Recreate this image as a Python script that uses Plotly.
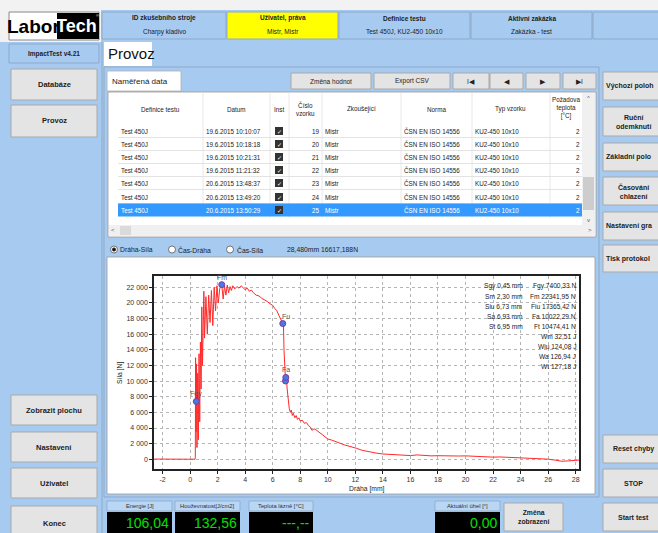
import plotly.graph_objects as go

# ---------------- DATA ----------------
drah_mm = [-2.6, -1.5, -0.5, 0.0, 0.36, 0.38, 0.40, 0.43, 0.45, 0.47, 0.50, 0.55, 0.60, 0.65, 0.70,
           0.75, 0.80, 0.85, 0.90, 1.00, 1.05, 1.15, 1.25, 1.35, 1.45, 1.55, 1.65, 1.75, 1.85, 1.95,
           2.05, 2.15, 2.30, 2.40, 2.50, 2.60, 2.70, 2.80, 2.90, 3.00, 3.10, 3.25, 3.40, 3.55, 3.70,
           3.85, 4.00, 4.15, 4.30, 4.45, 4.60, 4.80, 5.00, 5.20, 5.40, 5.60, 5.80, 6.00, 6.15, 6.30,
           6.45, 6.60, 6.73, 6.78, 6.82, 6.86, 6.90, 6.93, 6.95, 7.00, 7.05, 7.10, 7.15, 7.20, 7.28,
           7.35, 7.42, 7.50, 7.60, 7.70, 7.80, 7.90, 8.00, 8.15, 8.30, 8.45, 8.60, 8.75, 8.85, 9.00,
           9.20, 9.40, 9.60, 9.80, 10.0, 10.3, 10.6, 10.9, 11.2, 11.5, 11.8, 12.1, 12.5, 13.0, 13.5,
           14.0, 14.5, 15.0, 15.5, 16.0, 16.5, 17.0, 17.5, 18.0, 18.5, 19.0, 19.5, 20.0, 20.5, 21.0,
           21.5, 22.0, 22.5, 23.0, 23.5, 24.0, 24.5, 25.0, 25.5, 26.0, 26.5, 27.0, 27.5, 28.0, 28.25]
sila_n = [30, 20, 10, 0, 10, 200, 13000, 3500, 7400, 12200, 1500, 11000, 2500, 13500, 4800,
          15000, 9000, 19500, 12000, 21500, 15500, 20800, 16000, 21000, 17500, 21600, 17100, 22000, 19000, 22200,
          20000, 21800, 22341, 20500, 22200, 21000, 22300, 21300, 22100, 21600, 22200, 21800, 22100, 21900, 22200,
          22000, 21700, 21900, 21500, 21650, 21300, 21000, 20900, 20600, 20450, 20200, 19900, 19700, 19300, 19000,
          18400, 17900, 17365, 17200, 14000, 11500, 10800, 10022, 10474, 10300, 9000, 8000, 7000, 6500, 6000,
          6300, 5600, 5900, 5300, 5600, 5100, 5300, 4900, 5000, 4600, 4700, 4300, 4100, 3700, 3900,
          3700, 3400, 3200, 2900, 2600, 2450, 2200, 2050, 1850, 1700, 1600, 1400, 1150, 950, 800,
          680, 620, 560, 520, 480, 560, 480, 440, 460, 420, 380, 420, 440, 380, 320,
          300, 280, 300, 260, 220, 180, 160, 120, 80, 20, -100, -250, -200, -120, -100]

mark_names = ["Fgy", "Fm", "Fu", "Fa", "Ft"]
mark_x = [0.45, 2.30, 6.73, 6.93, 6.95]
mark_y = [7400, 22341, 17365, 10022, 10474]

x_ticks = [-2, 0, 2, 4, 6, 8, 10, 12, 14, 16, 18, 20, 22, 24, 26, 28]
x_tick_labels = ["-2", "0", "2", "4", "6", "8", "10", "12", "14", "16", "18", "20", "22", "24", "26", "28"]
y_ticks = [0, 2000, 4000, 6000, 8000, 10000, 12000, 14000, 16000, 18000, 20000, 22000]

stats_left = ["Sgy 0,45 mm", "Sm 2,30 mm", "Siu 6,73 mm", "Sa 6,93 mm", "St 6,95 mm"]
stats_right = ["Fgy 7400,33 N", "Fm 22341,95 N", "Fiu 17365,42 N", "Fa 10022,29 N", "Ft 10474,41 N",
               "Wm 32,51 J", "Wiu 124,08 J", "Wa 126,94 J", "Wt 127,18 J"]

header_titles = ["ID zkušebního stroje", "Uživatel, práva", "Definice testu", "Aktivní zakázka", ""]
header_values = ["Charpy kladivo", "Mistr, Mistr", "Test 450J, KU2-450 10x10", "Zakázka - test", ""]

table_cols = ["Definice testu", "Datum", "Inst", "Číslo<br>vzorku", "Zkoušející", "Norma", "Typ vzorku",
              "Požadova<br>teplota<br>[°C]"]
row_defs = ["Test 450J", "Test 450J", "Test 450J", "Test 450J", "Test 450J", "Test 450J", "Test 450J"]
row_dates = ["19.6.2015 10:10:07", "19.6.2015 10:18:18", "19.6.2015 10:21:31", "19.6.2015 11:21:32",
             "20.6.2015 13:48:37", "20.6.2015 13:49:20", "20.6.2015 13:50:29"]
row_nums = ["19", "20", "21", "22", "23", "24", "25"]
row_testers = ["Mistr", "Mistr", "Mistr", "Mistr", "Mistr", "Mistr", "Mistr"]
row_norms = ["ČSN EN ISO 14556"] * 7
row_types = ["KU2-450 10x10"] * 7
row_temps = ["2", "2", "2", "2", "2", "2", "2"]

left_buttons_top = ["Databáze", "Provoz"]
left_buttons_bottom = ["Zobrazit plochu", "Nastavení", "Uživatel", "Konec"]
right_buttons_top = ["Výchozí poloh", "Ruční<br>odemknutí", "Základní polo", "Časování<br>chlazení",
                     "Nastavení gra", "Tisk protokol"]
right_buttons_bottom = ["Reset chyby", "STOP", "Start test"]
nav_buttons = ["Změna hodnot", "Export CSV", "I◀", "◀", "▶", "▶I"]
radio_labels = ["Dráha-Síla", "Čas-Dráha", "Čas-Síla"]
cursor_readout = "28,480mm 16617,188N"
display_labels = ["Energie [J]", "Houževnatost[J/cm2]", "Teplota lázně [°C]", "Aktuální úhel [°]"]
display_values = ["106,04", "132,56", "---,--", "0,00"]

# ---------------- HELPERS ----------------
W, H = 658, 533
FONT = "Liberation Sans"
LB = "#a7caf0"
BTN = "#e4e4e4"
BTNB = "#a9a9a9"
shapes = []
annos = []


def px(x):
    return x / W


def py(y):
    return 1 - y / H


def rect(x0, y0, x1, y1, fill, line=None, lw=1):
    shapes.append(dict(type="rect", xref="paper", yref="paper", x0=px(x0), x1=px(x1), y0=py(y1), y1=py(y0),
                       fillcolor=fill, line=dict(color=line if line else fill, width=lw if line else 0),
                       layer="below"))


def circle(cx, cy, r, fill, line="#555"):
    shapes.append(dict(type="circle", xref="paper", yref="paper", x0=px(cx - r), x1=px(cx + r),
                       y0=py(cy + r), y1=py(cy - r), fillcolor=fill, line=dict(color=line, width=0.8),
                       layer="below"))


def text(x, y, s, size=7, color="#222", anchor="center", bold=False, family=FONT):
    annos.append(dict(xref="paper", yref="paper", x=px(x), y=py(y), text=("<b>%s</b>" % s if bold else s),
                      showarrow=False, xanchor=anchor, yanchor="middle", borderpad=0,
                      font=dict(size=size, color=color, family=family)))


def button(x0, y0, x1, y1, label, size=7, bold=True, cx=None, anchor="center"):
    rect(x0, y0, x1, y1, BTN, BTNB, 1)
    text(cx if cx is not None else (x0 + x1) / 2, (y0 + y1) / 2, label, size=size, bold=bold, anchor=anchor)


# ---------------- UI FRAME ----------------
rect(0, 0, W, 10, "#f2f2f2")
rect(0, 0, 101, 42, "#f2f2f2")
# logo
rect(9, 12, 99, 40, "#ffffff", "#888888", 1)
rect(57, 13, 99, 39, "#000000")
text(33, 26.5, "Labor", size=19, color="#000", bold=True)
text(76.5, 26.5, "Tech", size=18, color="#fff", bold=True)
text(97.5, 15.5, "®", size=4, color="#fff")

# header cells
hx = [(102, 226), (227, 338), (339, 470), (471, 592), (593, 660)]
for i, (a, b) in enumerate(hx):
    fill = "#ffff00" if i == 1 else LB
    rect(a, 12, b, 39, fill, "#8ea9c8", 1)
    text((a + b) / 2, 18.5, header_titles[i], size=6.5, bold=True)
    text((a + b) / 2, 31.5, header_values[i], size=6.5)

# left panel
rect(9, 44, 99, 63, LB, "#8ea9c8", 1)
text(54, 53.5, "ImpactTest v4.21", size=6.5, bold=True)
for lab, (a, b) in zip(left_buttons_top, [(69, 100), (105, 137)]):
    button(11, a, 97, b, lab, size=7.5)
for lab, (a, b) in zip(left_buttons_bottom, [(395, 425), (432, 462), (468, 498), (506, 540)]):
    button(11, a, 97, b, lab, size=7.5)
shapes.append(dict(type="line", xref="paper", yref="paper", x0=px(102), x1=px(102), y0=py(533), y1=py(42),
                   line=dict(color="#8ea9c8", width=1), layer="below"))

# Provoz tab
rect(104, 42, 152, 66, "#ffffff")
text(107, 54, "Provoz", size=15, color="#111", anchor="left")

# main panel border
rect(104, 67, 599, 497, LB, "#8ea9c8", 1)

# Naměřená data tab
rect(107, 71, 181, 91, "#ffffff", "#b0b0b0", 0.8)
text(111, 81, "Naměřená data", size=8, anchor="left")

# nav buttons
for lab, (a, b) in zip(nav_buttons, [(291, 371), (374, 450), (453, 489), (490, 523), (526, 560), (563, 596)]):
    button(a, 73, b, 89, lab, size=6.5, bold=False)

# table
rect(108, 92, 596, 237, "#ffffff", "#9a9a9a", 0.8)
col_edges = [118, 203, 270, 289, 322, 401, 472, 550, 582]
for e in col_edges[1:-1]:
    shapes.append(dict(type="line", xref="paper", yref="paper", x0=px(e), x1=px(e), y0=py(218), y1=py(93),
                       line=dict(color="#e2e2e2", width=0.8), layer="below"))
hdr_centers = [160, 236, 279, 305, 361, 436, 511, 566]
for c, lab in zip(hdr_centers, table_cols):
    text(c, 109 if "teplota" not in lab else 108, lab, size=6.3)
row_y = [131, 144, 157, 170, 183, 197, 210]
for i, y in enumerate(row_y):
    sel = i == len(row_y) - 1
    if sel:
        rect(118, y - 6.5, 582, y + 6.5, "#3399ff")
    else:
        shapes.append(dict(type="line", xref="paper", yref="paper", x0=px(118), x1=px(582), y0=py(y + 6.5),
                           y1=py(y + 6.5), line=dict(color="#dcdcdc", width=0.8), layer="below"))
    tc = "#ffffff" if sel else "#222"
    text(120, y, row_defs[i], size=6.3, color=tc, anchor="left")
    text(205, y, row_dates[i], size=6.3, color=tc, anchor="left")
    rect(275, y - 4, 283, y + 4, "#333333")
    text(279, y, "✓", size=6, color="#ffffff", family="DejaVu Sans")
    text(321, y, row_nums[i], size=6.3, color=tc, anchor="right")
    text(324, y, row_testers[i], size=6.3, color=tc, anchor="left")
    text(403, y, row_norms[i], size=6.3, color=tc, anchor="left")
    text(474, y, row_types[i], size=6.3, color=tc, anchor="left")
    text(581, y, row_temps[i], size=6.3, color=tc, anchor="right")
# scrollbars
rect(582, 93, 595, 225, "#f0f0f0")
rect(583, 177, 594, 210, "#cdcdcd")
text(588, 98, "^", size=6, color="#555")
text(588, 220, "v", size=6, color="#555")
rect(109, 225, 595, 236, "#f0f0f0")
rect(120, 226, 131, 235, "#dadada")
text(113, 230, "<", size=6, color="#555")
text(590, 230, ">", size=6, color="#555")

# radio row
rx = [114, 172, 230]
rt = [119, 177, 236]
for i in range(3):
    circle(rx[i], 249.5, 3.5, "#ffffff")
    text(rt[i], 249.5, radio_labels[i], size=6.8, anchor="left")
circle(114, 249.5, 1.6, "#111111", "#111111")
text(286, 249.5, cursor_readout, size=6.8, anchor="left")

# chart panel
rect(107, 257, 595, 494, "#ffffff", "#9a9a9a", 0.8)

# bottom displays
disp_x = [(107, 172), (175, 240), (249, 313), (435, 500)]
for i, (a, b) in enumerate(disp_x):
    rect(a, 501, b, 511, "#b9d6f5", "#8ea9c8", 0.8)
    text((a + b) / 2, 506, display_labels[i], size=5.8, color="#333")
    rect(a, 512, b, 535, "#000000")
    text(b - 2, 523, display_values[i], size=14, color="#00e000", anchor="right")
button(504, 503, 563, 531, "Změna<br>zobrazení", size=6.8)

# right panel buttons (cut off at the window edge, as in the screenshot)
for lab, (a, b) in zip(right_buttons_top, [(72, 100), (107, 136), (143, 171), (177, 205), (212, 240), (245, 272)]):
    if "<br>" in lab:
        button(603, a, 680, b, lab, size=7, cx=634)
    else:
        button(603, a, 680, b, lab, size=7, cx=605, anchor="left")
for lab, (a, b) in zip(right_buttons_bottom, [(435, 463), (469, 497), (503, 531)]):
    button(603, a, 680, b, lab, size=7, cx=633)

# ---------------- CHART ----------------
fig = go.Figure()
fig.add_trace(go.Scatter(x=drah_mm, y=sila_n, mode="lines", line=dict(color="#ff2a2a", width=1),
                         showlegend=False, hoverinfo="skip"))
fig.add_trace(go.Scatter(x=mark_x, y=mark_y, mode="markers",
                         marker=dict(size=6, color="#4a78e0", line=dict(color="#7a3aa8", width=1)),
                         showlegend=False, hoverinfo="skip"))

label_dy = [900, 900, 900, 1500, 1500]
label_dx = [0.0, 0.0, 0.25, 0.0, 0.25]
for n, xx, yy, dy, dx in zip(mark_names[:4], mark_x, mark_y, label_dy, label_dx):
    annos.append(dict(xref="x", yref="y", x=xx + dx, y=yy + dy, text=n, showarrow=False,
                      font=dict(size=7, color="#555", family=FONT)))

for i, s in enumerate(stats_left):
    text(524, 286 + i * 10, s, size=6.6, color="#222", anchor="right")
for i, s in enumerate(stats_right):
    text(577, 286 + i * 10, s, size=6.6, color="#222", anchor="right")

text(120, 373, "Síla [N]", size=6.8)
annos[-1]["textangle"] = -90
text(367, 489, "Dráha [mm]", size=6.8)

fig.update_layout(
    width=W, height=H, margin=dict(l=0, r=0, t=0, b=0),
    paper_bgcolor=LB, plot_bgcolor="#ffffff",
    separators=", ",
    shapes=shapes, annotations=annos,
    font=dict(family=FONT, size=7, color="#222"),
    xaxis=dict(domain=[px(154), px(579)], range=[-2.62, 28.24], tickvals=x_ticks, ticktext=x_tick_labels,
               showgrid=True, gridcolor="#b5b5b5", griddash="dot", gridwidth=1, zeroline=False,
               showline=True, linecolor="#222", linewidth=1.5, mirror=True,
               ticks="outside", ticklen=3, tickcolor="#222", tickfont=dict(size=7, color="#333")),
    yaxis=dict(domain=[py(469), py(276)], range=[-1240, 23450], tickvals=y_ticks, tickformat=",d",
               showgrid=True, gridcolor="#b5b5b5", griddash="dot", gridwidth=1, zeroline=False,
               showline=True, linecolor="#222", linewidth=1.5, mirror=True,
               ticks="outside", ticklen=3, tickcolor="#222", tickfont=dict(size=7, color="#333")),
)

fig.write_html("out.html", config={"displayModeBar": False},
               post_script="document.body.style.margin='0px';document.body.style.overflow='hidden';")
